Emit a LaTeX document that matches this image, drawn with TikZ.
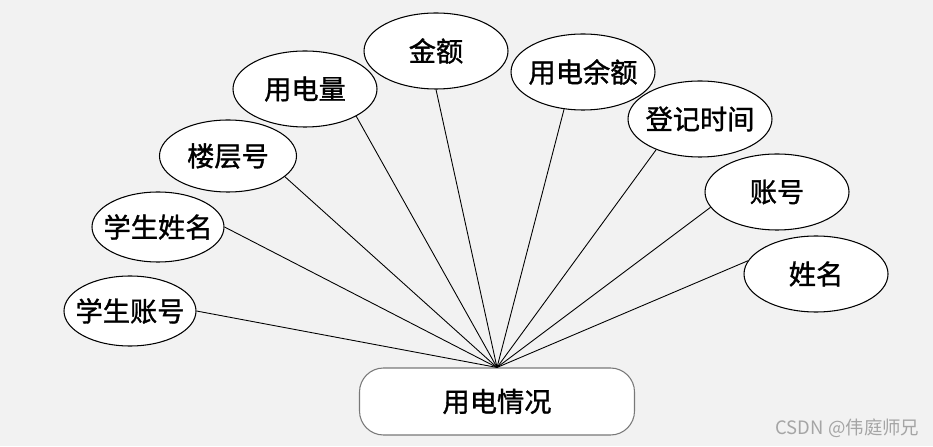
\documentclass[tikz,border=0pt]{standalone}
\usepackage{fontspec}
\newfontfamily\cjk[FakeBold=1.2]{Noto Sans CJK SC}
\newfontfamily\cjkmark{Noto Sans CJK SC}
\usetikzlibrary{shapes.geometric, positioning}
\definecolor{mybg}{RGB}{242,242,242}
\definecolor{myedge}{RGB}{120,120,120}
\definecolor{mymark}{RGB}{165,165,165}
\tikzset{
  attr/.style={ellipse, draw=black, fill=white,
    minimum width=2.88cm, minimum height=1.52cm,
    inner sep=0pt, inner xsep=-8pt, line width=0.6pt,
    font=\cjk\fontsize{15.5}{18}\selectfont},
  smallattr/.style={attr, minimum width=2.64cm, minimum height=1.40cm},
  entity/.style={rectangle, draw=myedge, fill=white,
    minimum width=5.5cm, minimum height=1.34cm,
    rounded corners=0.48cm, line width=0.6pt,
    font=\cjk\fontsize{15.5}{18}\selectfont},
  link/.style={line width=0.5pt, color=black}
}
\begin{document}
\begin{tikzpicture}
  % Background
  \fill[mybg] (0,0) rectangle (18.66,8.92);
  \useasboundingbox (0,0) rectangle (18.66,8.92);

  % Entity
  \node[entity] (record) at (9.94,0.89) {用电情况};

  % Attributes
  \node[smallattr] (stuacct) at (2.60,2.70) {学生账号};
  \node[smallattr] (stuname) at (3.16,4.38) {学生姓名};
  \node[attr, minimum width=2.74cm, minimum height=1.44cm] (floor) at (4.56,5.80) {楼层号};
  \node[attr] (usage) at (6.10,7.14) {用电量};
  \node[attr] (amount) at (8.72,7.90) {金额};
  \node[attr] (balance) at (11.66,7.48) {用电余额};
  \node[attr] (regtime) at (14.00,6.54) {登记时间};
  \node[attr] (account) at (15.54,5.08) {账号};
  \node[attr] (name) at (16.32,3.44) {姓名};

  % Links
  \draw[link] (record.north) -- (stuacct.east);
  \draw[link] (record.north) -- (stuname.east);
  \draw[link] (record.north) -- (floor.-20);
  \draw[link] (record.north) -- (usage.-28);
  \draw[link] (record.north) -- (amount.south);
  \draw[link] (record.north) -- (balance.-117);
  \draw[link] (record.north) -- (regtime.-145);
  \draw[link] (record.north) -- (account.-167);
  \draw[link] (record.north) -- (name.169);

  % Watermark
  \node[font=\cjkmark\fontsize{10.5}{12}\selectfont, color=mymark] (mark) at (16.95,0.36) {CSDN @伟庭师兄};
\end{tikzpicture}
\end{document}
